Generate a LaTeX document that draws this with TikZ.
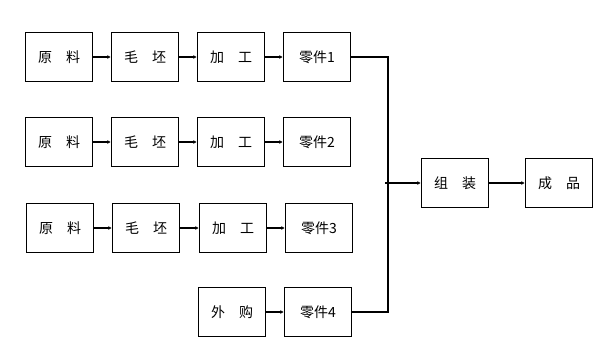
\documentclass[tikz,border=0pt]{standalone}
\usepackage{fontspec}
\setmainfont{Noto Sans CJK SC}
\usetikzlibrary{positioning, calc, arrows.meta}
\tikzstyle{Flow} = [
%small arrow between boxes
line width = 1.2pt,
-{Latex[length=3.5pt, width=4pt]}
]
\begin{document}
\begin{tikzpicture}[x=1pt, y=-1pt,
			step box/.style = {rectangle, line width = 1.5pt, draw, text centered, minimum width = 67pt, minimum height = 49pt, inner sep = 0pt, font = \fontsize{14}{16}\selectfont},
			bus/.style = {line width = 1.5pt},
		]
		\useasboundingbox (0,0) rectangle (601,348);
		% row 1
		\node[step box](R1) at (59,57){原\hspace{1em}料};
		\node[step box](B1) at (145,57){毛\hspace{1em}坯};
		\node[step box](M1) at (231,57){加\hspace{1em}工};
		\node[step box](P1) at (317,57){零件1};
		% row 2
		\node[step box](R2) at (59,142){原\hspace{1em}料};
		\node[step box](B2) at (145,142){毛\hspace{1em}坯};
		\node[step box](M2) at (231,142){加\hspace{1em}工};
		\node[step box](P2) at (317,142){零件2};
		% row 3
		\node[step box](R3) at (60,228){原\hspace{1em}料};
		\node[step box](B3) at (146,228){毛\hspace{1em}坯};
		\node[step box](M3) at (233,228){加\hspace{1em}工};
		\node[step box](P3) at (319,228){零件3};
		% row 4
		\node[step box](E4) at (232,312){外\hspace{1em}购};
		\node[step box](P4) at (318,312){零件4};
		% assembly
		\node[step box](Asm) at (455,183){组\hspace{1em}装};
		\node[step box](Prod) at (559,183){成\hspace{1em}品};
		\coordinate(BusMid) at (388,183);

		\draw[Flow](R1)--(B1);
		\draw[Flow](B1)--(M1);
		\draw[Flow](M1)--(P1);
		\draw[Flow](R2)--(B2);
		\draw[Flow](B2)--(M2);
		\draw[Flow](M2)--(P2);
		\draw[Flow](R3)--(B3);
		\draw[Flow](B3)--(M3);
		\draw[Flow](M3)--(P3);
		\draw[Flow](E4)--(P4);
		\draw[bus](P1.east)-|(BusMid)|-(P4.east);
		\draw[Flow]([xshift=-3pt]BusMid)--(Asm);
		\draw[Flow](Asm)--(Prod);
	\end{tikzpicture}
\end{document}
